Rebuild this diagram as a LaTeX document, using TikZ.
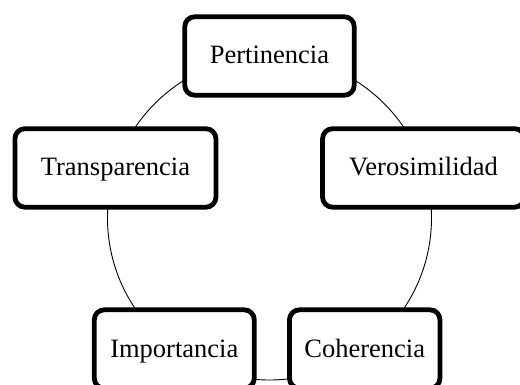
\documentclass[tikz,border=0pt]{standalone}
\usepackage{fontspec}
\setmainfont{Liberation Serif}
\begin{document}
\begin{tikzpicture}[x=1pt,y=1pt,font=\fontsize{26.5}{30}\selectfont,line join=round,line cap=round]
			\tikzset{caja/.style={draw,line width=4.8pt,rounded corners=10pt,fill=white,minimum height=78.5pt,inner sep=0pt,text height=18pt,text depth=2pt}}
			\clip (0,0) rectangle (520,-385);
			\coordinate (c) at (269.5,-218);
			\draw[line width=0.9pt] (c) circle (162pt);
			\node[caja,minimum width=169.5pt] (per) at ([shift={(90:162)}]c) {Pertinencia};
			\node[caja,minimum width=201pt] (tra) at ([shift={(162:162)}]c) {Transparencia};
			\node[caja,minimum width=202pt] (ver) at ([shift={(18:162)}]c) {Verosimilidad};
			\node[caja,minimum width=160pt] (imp) at ([shift={(234:162)}]c) {Importancia};
			\node[caja,minimum width=150.5pt] (coh) at ([shift={(306:162)}]c) {Coherencia};
			\end{tikzpicture}
\end{document}
